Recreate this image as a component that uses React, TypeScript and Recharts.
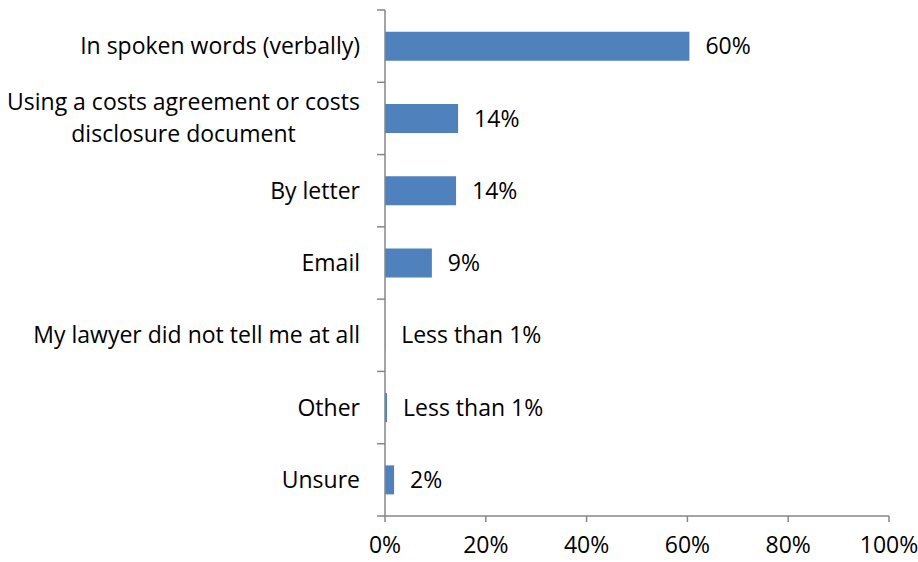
import { BarChart, Bar, XAxis, YAxis, LabelList } from "recharts";

const categories = [
  "In spoken words (verbally)",
  "Using a costs agreement or costs|disclosure document",
  "By letter",
  "Email",
  "My lawyer did not tell me at all",
  "Other",
  "Unsure",
];
const values = [0.604, 0.145, 0.141, 0.093, 0.0004, 0.004, 0.018];
const valueLabels = ["60%", "14%", "14%", "9%", "Less than 1%", "Less than 1%", "2%"];
const xTicks = [0, 0.2, 0.4, 0.6, 0.8, 1];

const data = categories.map((name, i) => ({
  name,
  value: values[i],
  label: valueLabels[i],
}));

const FONT = "'Open Sans', sans-serif";
const FS = 23;
const W = 918;
const H = 562;
const TOP = 10;
const BOTTOM = 46;
const BAND = (H - TOP - BOTTOM) / categories.length;

let ctx: CanvasRenderingContext2D | null = null;
function textWidth(s: string) {
  if (!ctx) ctx = document.createElement("canvas").getContext("2d");
  if (!ctx) return s.length * FS * 0.5;
  ctx.font = `${FS}px ${FONT}`;
  return ctx.measureText(s).width;
}

function CategoryTick(props: any) {
  const { x, y, payload, index } = props;
  const lines = String(payload.value).split("|");
  const right = x - 25;
  const multi = lines.length > 1;
  const maxW = Math.max(...lines.map(textWidth));
  const lineH = 32;
  const startY = y - ((lines.length - 1) * lineH) / 2;
  const tx = multi ? right - maxW / 2 : right;
  return (
    <g>
      <line x1={x - 8} x2={x} y1={y - BAND / 2} y2={y - BAND / 2} stroke="#868686" strokeWidth={1.5} />
      {index === categories.length - 1 && (
        <line x1={x - 8} x2={x} y1={y + BAND / 2} y2={y + BAND / 2} stroke="#868686" strokeWidth={1.5} />
      )}
      <text
        x={tx}
        y={startY}
        textAnchor={multi ? "middle" : "end"}
        fontSize={FS}
        fontFamily={FONT}
        fill="#000"
      >
        {lines.map((l, i) => (
          <tspan key={i} x={tx} dy={i === 0 ? "0.35em" : lineH}>
            {l}
          </tspan>
        ))}
      </text>
    </g>
  );
}

export default function App() {
  return (
    <div style={{ width: W, height: H, background: "#fff" }}>
      <style>{"body{margin:0}"}</style>
      <BarChart
        width={W}
        height={H}
        data={data}
        layout="vertical"
        margin={{ top: TOP, right: 29, bottom: 0, left: 0 }}
        barCategoryGap="30%"
      >
        <XAxis
          type="number"
          domain={[0, 1]}
          ticks={xTicks}
          tickFormatter={(v: number) => `${Math.round(v * 100)}%`}
          height={BOTTOM}
          tickSize={6}
          tickMargin={15}
          stroke="#868686"
          strokeWidth={1.5}
          tick={{ fill: "#000", fontSize: FS, fontFamily: FONT }}
        />
        <YAxis
          type="category"
          dataKey="name"
          width={385}
          tickSize={0}
          tickMargin={0}
          tickLine={false}
          stroke="#868686"
          strokeWidth={1.5}
          interval={0}
          tick={<CategoryTick />}
        />
        <Bar dataKey="value" fill="#4F81BD" isAnimationActive={false}>
          <LabelList
            dataKey="label"
            position="right"
            offset={16}
            fill="#000"
            fontSize={FS}
            fontFamily={FONT}
          />
        </Bar>
      </BarChart>
    </div>
  );
}
